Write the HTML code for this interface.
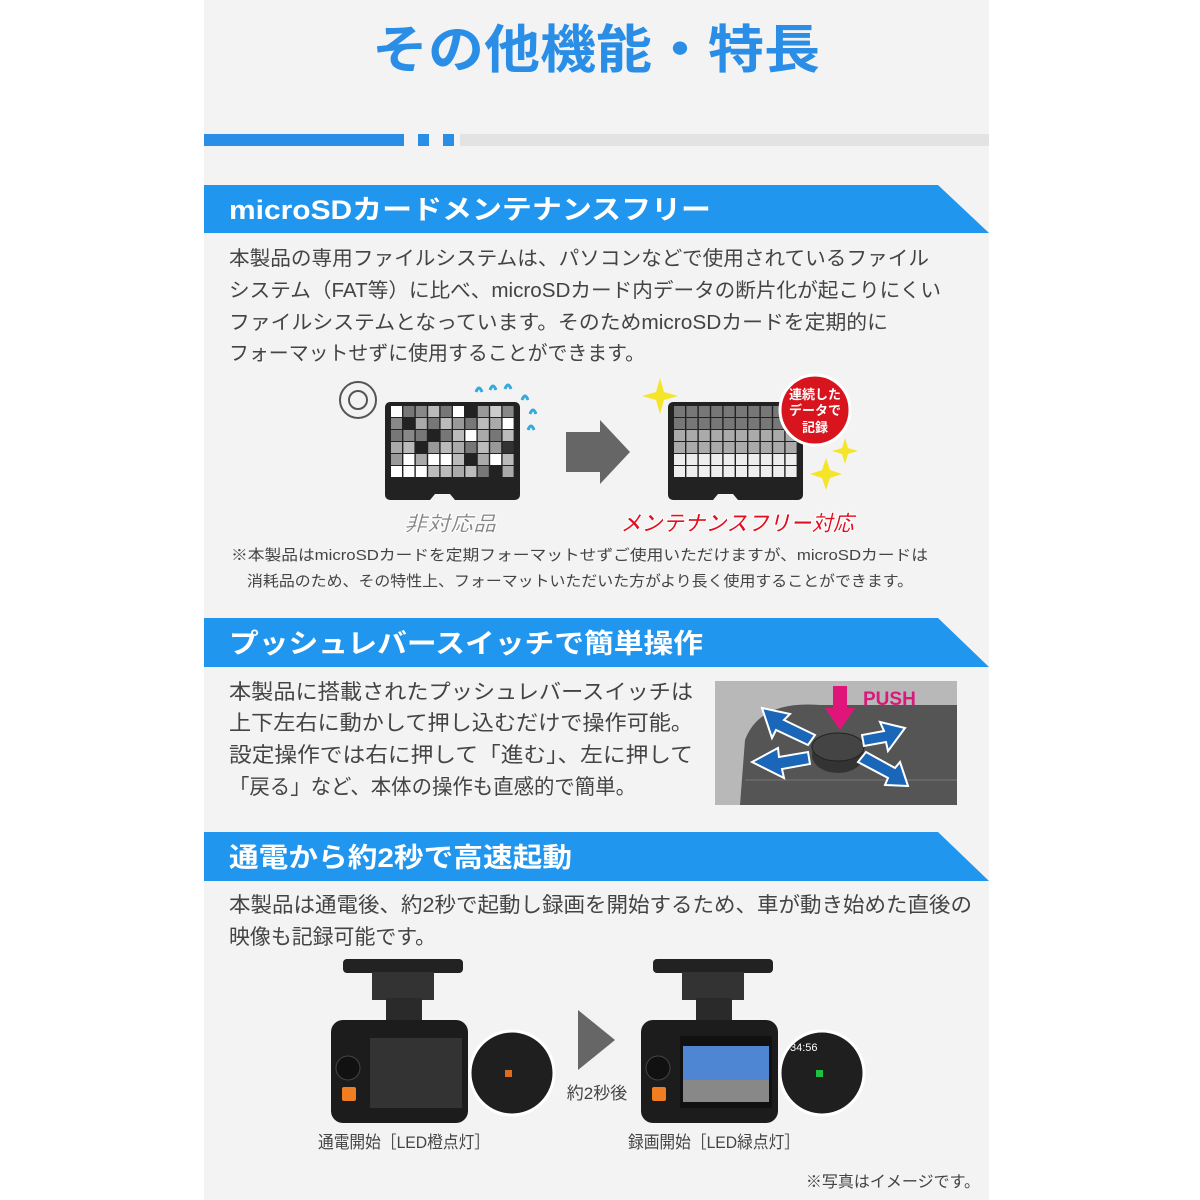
<!DOCTYPE html>
<html><head><meta charset="utf-8"><style>
html,body{margin:0;padding:0;background:#fff;}
svg{display:block}
text{font-family:"Liberation Sans","Noto Sans CJK JP",sans-serif;}
</style></head><body>
<svg width="1200" height="1200" viewBox="0 0 1200 1200" xmlns="http://www.w3.org/2000/svg">
<rect x="0" y="0" width="1200" height="1200" fill="#fff"/>
<rect x="204" y="0" width="785" height="1200" fill="#f3f3f3"/>
<text x="372" y="68" font-size="52" font-weight="bold" fill="#2a8ee6" textLength="448" lengthAdjust="spacingAndGlyphs">その他機能・特長</text>
<rect x="204" y="134" width="200" height="12" fill="#2a8ee6"/>
<rect x="418" y="134" width="11" height="12" fill="#2a8ee6"/>
<rect x="443" y="134" width="11" height="12" fill="#2a8ee6"/>
<rect x="460" y="134" width="529" height="12" fill="#e3e3e3"/>

<polygon points="204,185 938,185 989,233 204,233" fill="#2196ee"/>
<text x="229" y="219" font-size="27" font-weight="bold" fill="#fff" textLength="482" lengthAdjust="spacingAndGlyphs">microSDカードメンテナンスフリー</text>
<g font-size="20" fill="#444">
<text x="229" y="265" textLength="700" lengthAdjust="spacingAndGlyphs">本製品の専用ファイルシステムは、パソコンなどで使用されているファイル</text>
<text x="229" y="297" textLength="712" lengthAdjust="spacingAndGlyphs">システム（FAT等）に比べ、microSDカード内データの断片化が起こりにくい</text>
<text x="229" y="329" textLength="659" lengthAdjust="spacingAndGlyphs">ファイルシステムとなっています。そのためmicroSDカードを定期的に</text>
<text x="229" y="360" textLength="416" lengthAdjust="spacingAndGlyphs">フォーマットせずに使用することができます。</text>
</g>
<!-- left card -->
<circle cx="358" cy="400" r="18" fill="none" stroke="#555" stroke-width="2"/>
<circle cx="358" cy="400" r="9" fill="none" stroke="#555" stroke-width="2"/>
<path d="M380,400 Q398,380 410,395 Q420,385 425,400" fill="none" stroke="#38b5e0" stroke-width="0"/>
<g fill="none" stroke="#33aadd" stroke-width="3">
<path d="M476,392 q3,-8 6,0"/><path d="M490,390 q3,-8 6,0"/><path d="M505,389 q3,-8 6,0"/>
<path d="M522,400 q3,-8 6,0"/><path d="M530,414 q3,-8 6,0"/><path d="M528,430 q3,-8 6,0"/>
</g>
<path d="M385,402 h130 a5,5 0 0 1 5,5 v88 a5,5 0 0 1 -5,5 h-60 l-5,-6 h-15 l-5,6 h-40 a5,5 0 0 1 -5,-5 v-88 a5,5 0 0 1 5,-5z" fill="#222"/>
<g id="g1"></g>
<text x="404" y="531" font-size="21" font-weight="bold" font-style="italic" fill="#888" stroke="#fff" stroke-width="1" textLength="92" lengthAdjust="spacingAndGlyphs">非対応品</text>
<polygon points="566,432 600,432 600,420 630,452 600,484 600,472 566,472" fill="#666"/>
<!-- right card -->
<path d="M668,402 h130 a5,5 0 0 1 5,5 v88 a5,5 0 0 1 -5,5 h-60 l-5,-6 h-15 l-5,6 h-40 a5,5 0 0 1 -5,-5 v-88 a5,5 0 0 1 5,-5z" fill="#222"/>
<g id="g2"></g>
<circle cx="815" cy="410" r="35" fill="#d8141e" stroke="#fff" stroke-width="3"/>
<g font-size="13" fill="#fff" text-anchor="middle" font-weight="bold">
<text x="815" y="399">連続した</text><text x="815" y="415">データで</text><text x="815" y="432">記録</text></g>
<g fill="#f5e52a">
<path d="M660,378 l4,14 l14,4 l-14,4 l-4,14 l-4,-14 l-14,-4 l14,-4z"/>
<path d="M845,438 l3,10 l10,3 l-10,3 l-3,10 l-3,-10 l-10,-3 l10,-3z"/>
<path d="M826,458 l4,12 l12,4 l-12,4 l-4,12 l-4,-12 l-12,-4 l12,-4z"/>
</g>
<text x="620" y="531" font-size="22" font-weight="bold" font-style="italic" fill="#e01020" stroke="#fff" stroke-width="1" textLength="234" lengthAdjust="spacingAndGlyphs">メンテナンスフリー対応</text>
<g font-size="15" fill="#444">
<text x="231" y="560" textLength="697" lengthAdjust="spacingAndGlyphs">※本製品はmicroSDカードを定期フォーマットせずご使用いただけますが、microSDカードは</text>
<text x="247" y="586" textLength="666" lengthAdjust="spacingAndGlyphs">消耗品のため、その特性上、フォーマットいただいた方がより長く使用することができます。</text>
</g>

<polygon points="204,618 938,618 989,667 204,667" fill="#2196ee"/>
<text x="229" y="653" font-size="27" font-weight="bold" fill="#fff" textLength="474" lengthAdjust="spacingAndGlyphs">プッシュレバースイッチで簡単操作</text>
<g font-size="21" fill="#444">
<text x="229" y="699" textLength="464" lengthAdjust="spacingAndGlyphs">本製品に搭載されたプッシュレバースイッチは</text>
<text x="229" y="730" textLength="464" lengthAdjust="spacingAndGlyphs">上下左右に動かして押し込むだけで操作可能。</text>
<text x="229" y="762" textLength="464" lengthAdjust="spacingAndGlyphs">設定操作では右に押して「進む」、左に押して</text>
<text x="229" y="794" textLength="407" lengthAdjust="spacingAndGlyphs">「戻る」など、本体の操作も直感的で簡単。</text>
</g>
<rect x="715" y="681" width="242" height="124" fill="#b8b8b8"/>
<path d="M740,805 L745,740 Q760,700 820,705 L957,705 L957,805z" fill="#555"/>
<path d="M745,780 L957,780" stroke="#666" stroke-width="2"/>
<ellipse cx="838" cy="755" rx="26" ry="18" fill="#333"/>
<ellipse cx="838" cy="747" rx="26" ry="14" fill="#444" stroke="#222"/>
<g fill="#1a66b8" stroke="#fff" stroke-width="2">
<polygon points="762,708 790,714 784,720 815,735 808,745 776,730 772,738"/>
<polygon points="905,728 880,722 884,731 862,735 864,746 886,742 888,751"/>
<polygon points="752,762 778,748 779,757 808,752 810,764 782,769 784,778"/>
<polygon points="908,786 885,785 888,778 858,762 866,752 895,768 900,762"/>
</g>
<polygon points="833,686 847,686 847,708 855,708 840,730 825,708 833,708" fill="#e0157a"/>
<text x="863" y="705" font-size="19" font-weight="bold" fill="#d81b7a">PUSH</text>

<polygon points="204,832 938,832 989,881 204,881" fill="#2196ee"/>
<text x="229" y="867" font-size="27" font-weight="bold" fill="#fff" textLength="343" lengthAdjust="spacingAndGlyphs">通電から約2秒で高速起動</text>
<g font-size="21" fill="#444">
<text x="229" y="912" textLength="743" lengthAdjust="spacingAndGlyphs">本製品は通電後、約2秒で起動し録画を開始するため、車が動き始めた直後の</text>
<text x="229" y="944" textLength="207" lengthAdjust="spacingAndGlyphs">映像も記録可能です。</text>
</g>

<!-- camera 1 -->
<g>
<rect x="343" y="959" width="120" height="14" rx="4" fill="#222"/>
<rect x="372" y="972" width="62" height="28" fill="#333"/>
<rect x="386" y="998" width="36" height="26" fill="#2a2a2a"/>
<rect x="331" y="1020" width="137" height="103" rx="12" fill="#1c1c1c"/>
<rect x="370" y="1038" width="92" height="70" fill="#333"/>
<circle cx="348" cy="1068" r="12" fill="#111" stroke="#444"/>
<rect x="342" y="1087" width="14" height="14" rx="2" fill="#f07d20"/>
<circle cx="512" cy="1073" r="42" fill="#1f1f1f" stroke="#fff" stroke-width="3"/>
<rect x="505" y="1070" width="7" height="7" fill="#e06a20"/>
</g>
<polygon points="578,1010 615,1040 578,1070" fill="#666"/>
<text x="597" y="1099" font-size="17" fill="#444" text-anchor="middle">約2秒後</text>
<!-- camera 2 -->
<g>
<rect x="653" y="959" width="120" height="14" rx="4" fill="#222"/>
<rect x="682" y="972" width="62" height="28" fill="#333"/>
<rect x="696" y="998" width="36" height="26" fill="#2a2a2a"/>
<rect x="641" y="1020" width="137" height="103" rx="12" fill="#1c1c1c"/>
<rect x="680" y="1036" width="92" height="72" fill="#111"/>
<rect x="683" y="1046" width="86" height="34" fill="#4f86d4"/>
<rect x="683" y="1080" width="86" height="22" fill="#888"/>
<circle cx="658" cy="1068" r="12" fill="#111" stroke="#444"/>
<rect x="652" y="1087" width="14" height="14" rx="2" fill="#f07d20"/>
<circle cx="822" cy="1073" r="42" fill="#1f1f1f" stroke="#fff" stroke-width="3"/>
<text x="790" y="1051" font-size="11" fill="#fff">34:56</text>
<rect x="816" y="1070" width="7" height="7" fill="#20c040"/>
</g>
<text x="318" y="1148" font-size="17" fill="#444" textLength="172" lengthAdjust="spacingAndGlyphs">通電開始［LED橙点灯］</text>
<text x="628" y="1148" font-size="17" fill="#444" textLength="172" lengthAdjust="spacingAndGlyphs">録画開始［LED緑点灯］</text>
<text x="980" y="1187" font-size="16" fill="#444" text-anchor="end">※写真はイメージです。</text>
</svg>
<script>
(function(){
var ns="http://www.w3.org/2000/svg";
var c1=["#fff","#777","#888","#bbb","#777","#fff","#222","#999","#ccc","#888",
"#888","#222","#aaa","#777","#bbb","#999","#777","#bbb","#aaa","#fff",
"#777","#888","#777","#222","#777","#bbb","#fff","#aaa","#777","#bbb",
"#aaa","#bbb","#222","#999","#bbb","#aaa","#777","#bbb","#999","#333",
"#999","#fff","#aaa","#fff","#fff","#bbb","#222","#aaa","#fff","#bbb",
"#fff","#fff","#fff","#bbb","#bbb","#aaa","#bbb","#777","#222","#aaa"];
function grid(id,x0,f){var g=document.getElementById(id);
for(var r=0;r<6;r++)for(var c=0;c<10;c++){var e=document.createElementNS(ns,"rect");
e.setAttribute("x",x0+c*12.4);e.setAttribute("y",406+r*12);e.setAttribute("width",11);e.setAttribute("height",11);
e.setAttribute("fill",f(r,c));g.appendChild(e);}}
grid("g1",391,function(r,c){return c1[r*10+c];});
grid("g2",674,function(r,c){return ["#777","#777","#aaa","#aaa","#eee","#eee"][r];});
})();
</script>
</body></html>
